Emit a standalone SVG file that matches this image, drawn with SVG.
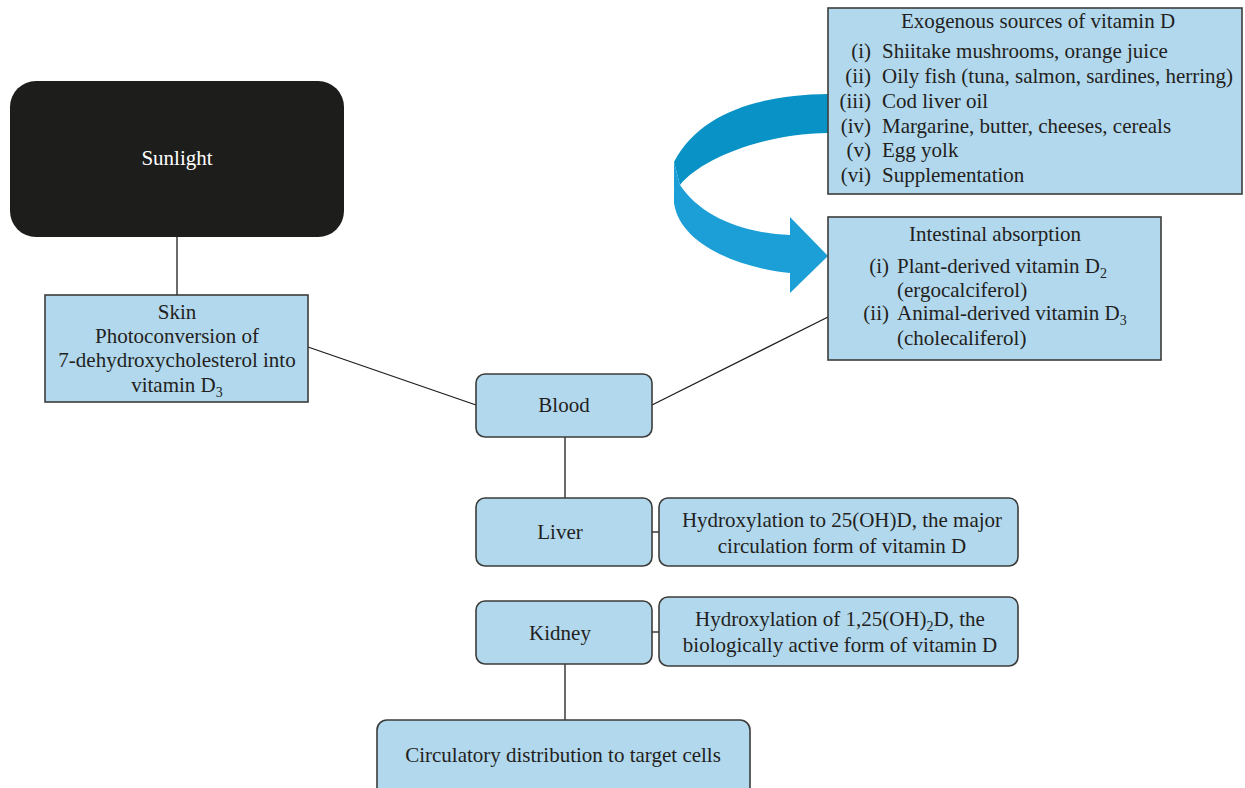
<svg xmlns="http://www.w3.org/2000/svg" width="1245" height="788" viewBox="0 0 1245 788">
<style>
text{font-family:"Liberation Serif","DejaVu Serif",serif;font-size:21px;fill:#231f20}
.box{fill:#b2d8ee;stroke:#3c3c3b;stroke-width:1.6}
.c{text-anchor:middle}
.r{text-anchor:end}
.ln{stroke:#1d1d1b;stroke-width:1.3;fill:none}
.sub{font-size:14px}
</style>
<rect width="1245" height="788" fill="#ffffff"/>
<g id="connectors">
<line class="ln" x1="177" y1="237" x2="177" y2="295"/>
<line class="ln" x1="308" y1="347" x2="476" y2="405"/>
<line class="ln" x1="652" y1="405" x2="828" y2="317"/>
<line class="ln" x1="565" y1="437" x2="565" y2="498"/>
<line class="ln" x1="652" y1="532" x2="659" y2="532"/>
<line class="ln" x1="652" y1="632" x2="659" y2="632"/>
<line class="ln" x1="565" y1="664" x2="565" y2="720"/>
</g>
<g id="big-arrow">
<path d="M828,94 C760,95 700,112 674,162 L680,185 C700,160 760,134 828,133 Z" fill="#0892c5"/>
<path d="M674,162 L674,203 C680,245 740,268 790,273 L790,293 L828,256 L790,217 L790,235 C740,233 700,215 680,185 Z" fill="#1c9fd7"/>
</g>
<g id="sunlight">
<rect x="10" y="81" width="334" height="156" rx="26" fill="#1d1d1b"/>
<text class="c" x="177" y="165" style="fill:#ffffff">Sunlight</text>
</g>
<g id="skin">
<rect class="box" x="45" y="295" width="263" height="107"/>
<text class="c" x="177" y="319">Skin</text>
<text class="c" x="177" y="343">Photoconversion of</text>
<text class="c" x="177" y="367">7-dehydroxycholesterol into</text>
<text class="c" x="177" y="392">vitamin D<tspan class="sub" dy="5">3</tspan></text>
</g>
<g id="exogenous">
<rect class="box" x="828" y="8" width="414" height="186"/>
<text class="c" x="1038" y="28">Exogenous sources of vitamin D</text>
<text class="r" x="871" y="58">(i)</text><text x="882" y="58">Shiitake mushrooms, orange juice</text>
<text class="r" x="871" y="83">(ii)</text><text x="882" y="83">Oily fish (tuna, salmon, sardines, herring)</text>
<text class="r" x="871" y="108">(iii)</text><text x="882" y="108">Cod liver oil</text>
<text class="r" x="871" y="133">(iv)</text><text x="882" y="133">Margarine, butter, cheeses, cereals</text>
<text class="r" x="871" y="157">(v)</text><text x="882" y="157">Egg yolk</text>
<text class="r" x="871" y="182">(vi)</text><text x="882" y="182">Supplementation</text>
</g>
<g id="intestinal">
<rect class="box" x="828" y="217" width="333" height="143"/>
<text class="c" x="995" y="241">Intestinal absorption</text>
<text class="r" x="889" y="273">(i)</text><text x="897" y="273">Plant-derived vitamin D<tspan class="sub" dy="5">2</tspan></text>
<text x="897" y="297">(ergocalciferol)</text>
<text class="r" x="889" y="320">(ii)</text><text x="897" y="320">Animal-derived vitamin D<tspan class="sub" dy="5">3</tspan></text>
<text x="897" y="345">(cholecaliferol)</text>
</g>
<g id="blood">
<rect class="box" x="476" y="374" width="176" height="63" rx="9"/>
<text class="c" x="564" y="412">Blood</text>
</g>
<g id="liver">
<rect class="box" x="476" y="498" width="176" height="68" rx="9"/>
<text class="c" x="560" y="539">Liver</text>
</g>
<g id="liver-desc">
<rect class="box" x="659" y="498" width="359" height="68" rx="9"/>
<text class="c" x="842" y="527">Hydroxylation to 25(OH)D, the major</text>
<text class="c" x="842" y="553">circulation form of vitamin D</text>
</g>
<g id="kidney">
<rect class="box" x="476" y="601" width="176" height="63" rx="9"/>
<text class="c" x="560" y="640">Kidney</text>
</g>
<g id="kidney-desc">
<rect class="box" x="659" y="597" width="359" height="69" rx="9"/>
<text class="c" x="840" y="626">Hydroxylation of 1,25(OH)<tspan class="sub" dy="5">2</tspan><tspan dy="-5">D, the</tspan></text>
<text class="c" x="840" y="652">biologically active form of vitamin D</text>
</g>
<g id="circulatory">
<rect class="box" x="377" y="720" width="373" height="80" rx="10"/>
<text class="c" x="563" y="762">Circulatory distribution to target cells</text>
</g>
</svg>
